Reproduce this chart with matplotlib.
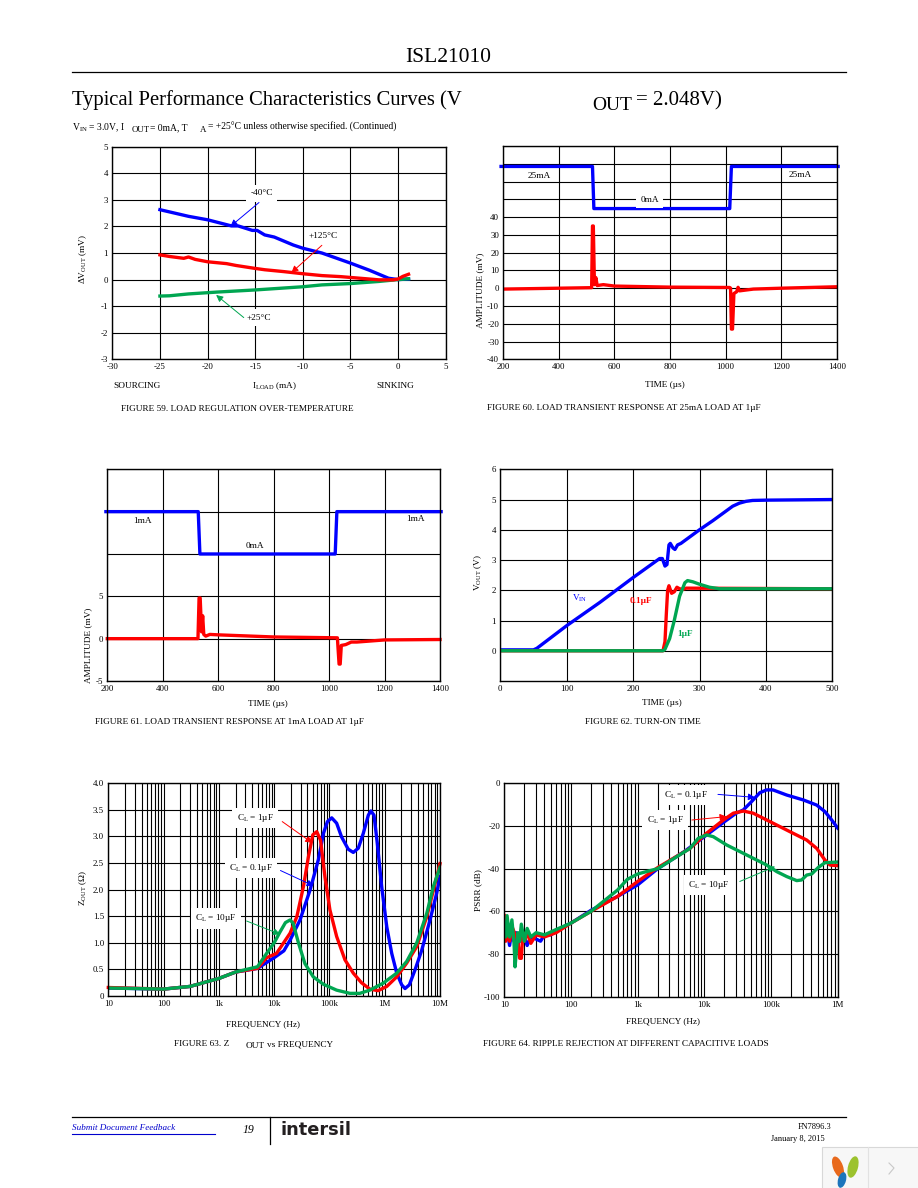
#!/usr/bin/env python3
"""ISL21010 datasheet page 19: six performance curves, values read off the page."""

import matplotlib
matplotlib.use('Agg')
import matplotlib.pyplot as plt
from matplotlib.patches import Ellipse, Rectangle
from matplotlib.ticker import FixedLocator, NullFormatter

plt.rcParams['font.family'] = ['Liberation Serif', 'DejaVu Sans']
plt.rcParams['axes.unicode_minus'] = False

W, H = 918, 1188
BLUE, RED, GREEN = "#0000ff", "#ff0000", "#00a651"
LW = 2.4
TICK_FS = 6.4

# Figure 59: load regulation
f59_blue_x = [-25, -22, -20, -17.5, -16.8, -16, -15.3, -14.8, -14, -13, -11, -10, -8, -5, -3, -1, 0, 1.1]
f59_blue_y = [2.63, 2.38, 2.25, 2.02, 2.02, 1.93, 1.85, 1.85, 1.68, 1.6, 1.3, 1.18, 1.0, 0.62, 0.35, 0.05, 0, 0.02]
f59_red_x = [-25, -24, -22.5, -22, -21.3, -20, -18, -17, -15, -14, -12, -10, -8, -6, -4, -2, -0.5, 0, 0.5, 1.1]
f59_red_y = [.93, .87, .8, .85, .76, .67, .6, .53, .42, .37, .3, .22, .15, .11, .05, -.01, -.01, .02, .12, .2]
f59_green_x = [-25, -24, -22, -19, -15, -10, -8, -5, -2, 0, 1.1]
f59_green_y = [-.62, -.61, -.54, -.47, -.39, -.27, -.2, -.15, -.07, 0, .03]

# Figure 60: 25mA load transient
f60_blue_x = [192, 521, 526, 1015, 1021, 1405]
f60_blue_y = [68.5, 68.5, 44.8, 44.8, 68.5, 68.5]
f60_red_x = [200, 400, 518, 521, 524, 528, 533, 538, 560, 600, 800, 1015, 1018, 1021, 1025, 1030, 1040, 1045, 1050, 1100, 1200, 1400]
f60_red_y = [-.5, 0, .3, 35, 35, 2, 6, 1.5, 2, 1.2, .6, .4, 0, -23, -23, -3, -2, .5, -1.5, -.5, 0, .8]

# Figure 61: 1mA load transient
f61_blue_x = [195, 528, 534, 1022, 1028, 1404]
f61_blue_y = [15, 15, 10, 10, 15, 15]
f61_red_x = [200, 400, 527, 531, 535, 540, 544, 548, 555, 570, 600, 800, 1030, 1032, 1036, 1040, 1044, 1060, 1080, 1100, 1200, 1400]
f61_red_y = [0, 0, 0, 4.8, 4.8, .8, 2.7, .5, .3, .5, .45, .2, .1, -1, -3, -3, -.8, -.7, -.4, -.4, -.15, -.1]

# Figure 62: turn-on time
f62_blue_x = [0, 50, 55, 100, 150, 200, 240, 244, 248, 251, 254, 256, 260, 263, 267, 272, 300, 320, 340, 350, 360, 370, 380, 400, 500]
f62_blue_y = [.03, .03, .08, .83, 1.6, 2.42, 3.05, 3.05, 2.8, 2.85, 3.5, 3.55, 3.4, 3.35, 3.5, 3.55, 4.0, 4.3, 4.62, 4.78, 4.88, 4.94, 4.97, 4.98, 5.0]
f62_red_x = [0, 245, 248, 250, 252, 254, 258, 262, 266, 270, 275, 280, 500]
f62_red_y = [0, 0, .3, 1.2, 2.0, 2.15, 1.9, 1.95, 2.1, 2.05, 2.03, 2.07, 2.05]
f62_green_x = [0, 245, 248, 255, 262, 270, 278, 282, 290, 300, 315, 330, 500]
f62_green_y = [0, 0, .05, .4, 1.0, 1.8, 2.25, 2.32, 2.28, 2.2, 2.1, 2.05, 2.05]

# Figure 63: output impedance
f63_blue_x = [10, 100, 300, 1e3, 2e3, 5e3, 1e4, 1.5e4, 1.94e4, 2.94e4, 4.45e4, 6.3e4, 7.8e4, 9.2e4, 1.1e5, 1.35e5, 1.66e5, 2.19e5, 2.7e5, 3.33e5, 4.1e5, 5.05e5, 5.62e5, 6.4e5, 7.35e5, 8.8e5, 1.09e6, 1.34e6, 1.65e6, 2.03e6, 2.33e6, 2.79e6, 3.53e6, 4.67e6, 6.6e6, 8.7e6, 1e7]
f63_blue_y = [.15, .13, .18, .33, .45, .52, .72, .85, 1.05, 1.43, 1.99, 2.56, 3.06, 3.28, 3.35, 3.25, 2.99, 2.76, 2.70, 2.78, 3.06, 3.40, 3.48, 3.40, 2.87, 2.06, 1.30, .80, .43, .21, .14, .21, .49, .86, 1.43, 1.93, 2.25]
f63_red_x = [10, 100, 300, 1e3, 2e3, 5e3, 7.3e3, 1.1e4, 1.94e4, 2.57e4, 3.39e4, 4.17e4, 5e4, 5.9e4, 6.9e4, 8.3e4, 1.02e5, 1.35e5, 1.91e5, 2.7e5, 3.8e5, 5.37e5, 7.59e5, 1.09e6, 1.65e6, 2.5e6, 3.8e6, 5.75e6, 7.6e6, 1e7]
f63_red_y = [.16, .13, .18, .33, .45, .52, .72, .8, 1.18, 1.49, 2.06, 2.62, 3.03, 3.09, 2.93, 2.24, 1.62, 1.12, .68, .43, .25, .13, .10, .18, .36, .62, .93, 1.49, 1.99, 2.49]
f63_green_x = [10, 100, 300, 1e3, 2e3, 5e3, 7.3e3, 1e4, 1.27e4, 1.6e4, 1.94e4, 2.2e4, 2.75e4, 3.6e4, 5.1e4, 7.8e4, 1.35e5, 2.35e5, 3.55e5, 5.37e5, 9.33e5, 1.65e6, 2.5e6, 3.8e6, 5.75e6, 7.6e6, 1e7]
f63_green_y = [.15, .13, .18, .33, .45, .55, .8, 1.0, 1.2, 1.38, 1.43, 1.37, 1.0, .61, .36, .22, .11, .05, .05, .11, .24, .43, .65, 1.0, 1.55, 2.06, 2.42]

# Figure 64: ripple rejection
f64_blue_x = [10, 10.5, 11, 12, 13, 14, 15, 16, 17, 18, 20, 22, 25, 30, 35, 40, 50, 60, 100, 200, 500, 1e3, 2e3, 5e3, 1e4, 2e4, 3e4, 3.84e4, 5.1e4, 6.8e4, 8.6e4, 1.07e5, 1.72e5, 3.05e5, 4.84e5, 6.45e5, 8.13e5, 1e6]
f64_blue_y = [-68, -72, -68, -76, -69, -74, -70, -76, -71, -74, -72, -76, -72, -73, -74, -71, -71, -69, -65.5, -59.5, -53, -47.6, -40, -32, -25, -18, -14, -12.5, -8.6, -4.4, -3.1, -3.1, -5.5, -7.8, -10.2, -13.3, -17.2, -21]
f64_red_x = [10, 10.5, 11, 12, 13, 15, 16, 17, 18, 19, 20, 22, 25, 30, 40, 60, 100, 200, 500, 1e3, 2e3, 6.1e3, 1.08e4, 1.93e4, 2.72e4, 3.84e4, 5.4e4, 9.7e4, 1.93e5, 3.43e5, 4.84e5, 6.45e5, 7.67e5, 1e6]
f64_red_y = [-62, -74, -64, -74, -67, -72, -74, -82, -82, -70, -74, -70, -75, -71, -72, -70, -65.5, -60, -53, -46, -39.5, -30.5, -23.4, -17.2, -14, -13, -14, -18, -22.7, -26.6, -30.5, -36, -38.3, -38.6]
f64_green_x = [10, 10.5, 11, 12, 13, 14, 14.5, 16, 17, 18, 20, 22, 25, 30, 40, 60, 100, 200, 500, 700, 1e3, 1.5e3, 2e3, 6.1e3, 8.1e3, 1.08e4, 1.36e4, 2.16e4, 3.84e4, 8.6e4, 1.22e5, 1.72e5, 2.43e5, 2.88e5, 3.43e5, 4.07e5, 5.13e5, 6.45e5, 1e6]
f64_green_y = [-66, -72, -62, -72, -64, -75, -86, -70, -74, -66, -74, -68, -72, -70, -71, -68.5, -65.5, -60, -50, -45, -42.5, -41, -40, -30.5, -25.8, -24.2, -25, -28.9, -32.8, -38.3, -41.4, -43.7, -45.6, -45.3, -43, -42.5, -39.4, -37.2, -36.9]

LOG_SUBS = [1, 2, 3, 4, 5, 6, 7, 8, 9]
F63_MINOR = [m * 10**d for d in range(1, 7) for m in LOG_SUBS[1:]]
F64_MINOR = [m * 10**d for d in range(1, 6) for m in LOG_SUBS[1:]]

CL_1 = r"$\mathregular{C_L}$ = 1µF"
CL_01 = r"$\mathregular{C_L}$ = 0.1µF"
CL_10 = r"$\mathregular{C_L}$ = 10µF"

fig = plt.figure(figsize=(W / 100, H / 100), dpi=100, facecolor='white')

# page overlay in pixel coordinates, y downwards
page = fig.add_axes([0, 0, 1, 1], zorder=5)
page.set_xlim(0, W)
page.set_ylim(H, 0)
page.axis('off')
page.patch.set_alpha(0)


def ptext(x, y, s, size=6.7, ha='left', **kw):
    page.text(x, y, s, fontsize=size, ha=ha, va='center', **kw)


def make_axes(left, top, right, bottom):
    ax = fig.add_axes([left / W, 1 - bottom / H, (right - left) / W, (bottom - top) / H])
    ax.tick_params(which='both', length=0, labelsize=TICK_FS, pad=3)
    ax.set_axisbelow(True)
    for sp in ax.spines.values():
        sp.set_linewidth(1.0)
    ax.grid(True, which='both', color='black', linewidth=0.8)
    return ax


def set_labels(ax, xlabel, xpos, ylabel, ypos):
    ax.set_xlabel(xlabel, fontsize=6.7, va='center')
    ax.xaxis.set_label_coords(*xpos, transform=page.transData)
    ax.set_ylabel(ylabel, fontsize=6.7, va='center')
    ax.yaxis.set_label_coords(*ypos, transform=page.transData)


def note(ax, s, x, y, color='black', box=True, weight='normal'):
    bbox = dict(facecolor='white', edgecolor='none', pad=3) if box else None
    ax.text(x, y, s, fontsize=6.7, color=color, ha='center', va='center',
            fontweight=weight, bbox=bbox, zorder=6)


def arrow(ax, tail, head, color):
    ax.annotate('', xy=head, xytext=tail, zorder=6,
                arrowprops=dict(arrowstyle='-|>', color=color, lw=0.7,
                                mutation_scale=10, shrinkA=0, shrinkB=0))


# Figure 59
ax = make_axes(112.3, 146.7, 445.7, 359.3)
ax.plot(f59_blue_x, f59_blue_y, color=BLUE, lw=LW)
ax.plot(f59_green_x, f59_green_y, color=GREEN, lw=LW)
ax.plot(f59_red_x, f59_red_y, color=RED, lw=LW)
ax.set_xlim(-30, 5)
ax.set_ylim(-3, 5)
ax.set_xticks(range(-30, 6, 5))
ax.set_yticks(range(-3, 6))
set_labels(ax, r"$\mathregular{I_{LOAD}}$ (mA)", (275, 386), r"ΔV$\mathregular{_{OUT}}$ (mV)", (83, 259))
note(ax, "-40°C", -14.3, 3.24)
arrow(ax, (-14.6, 2.9), (-17.6, 2.0), BLUE)
note(ax, "+125°C", -7.85, 1.64)
arrow(ax, (-8.0, 1.29), (-11.2, .26), RED)
note(ax, "+25°C", -14.67, -1.43)
arrow(ax, (-16.2, -1.43), (-19.1, -.58), GREEN)
ptext(113, 386, "SOURCING")
ptext(376, 386, "SINKING")

# Figure 60
ax = make_axes(503.3, 146, 836.7, 359.3)
ax.plot(f60_blue_x, f60_blue_y, color=BLUE, lw=LW, clip_on=False)
ax.plot(f60_red_x, f60_red_y, color=RED, lw=LW)
ax.set_xlim(200, 1400)
ax.set_ylim(-40, 80)
ax.set_xticks(range(200, 1401, 200))
ax.set_yticks(range(-40, 81, 10))
ax.set_yticklabels([str(v) if v <= 40 else '' for v in range(-40, 81, 10)])
set_labels(ax, "TIME (µs)", (665, 385), "AMPLITUDE (mV)", (480, 290))
note(ax, "25mA", 328, 63.4, box=False)
note(ax, "0mA", 726, 49.9)
note(ax, "25mA", 1268, 63.8, box=False)

# Figure 61
ax = make_axes(107.3, 469.3, 440, 681)
ax.plot(f61_blue_x, f61_blue_y, color=BLUE, lw=LW, clip_on=False)
ax.plot(f61_red_x, f61_red_y, color=RED, lw=LW, clip_on=False)
ax.set_xlim(200, 1400)
ax.set_ylim(-5, 20)
ax.set_xticks(range(200, 1401, 200))
ax.set_yticks(range(-5, 21, 5))
ax.set_yticklabels([str(v) if v <= 5 else '' for v in range(-5, 21, 5)])
set_labels(ax, "TIME (µs)", (268, 704), "AMPLITUDE (mV)", (88, 645))
note(ax, "1mA", 327, 13.9, box=False)
note(ax, "0mA", 732, 11, box=False)
note(ax, "1mA", 1310, 14.1, box=False)

# Figure 62
ax = make_axes(500.3, 469.3, 832.3, 681)
ax.plot(f62_blue_x, f62_blue_y, color=BLUE, lw=LW)
ax.plot(f62_red_x, f62_red_y, color=RED, lw=LW)
ax.plot(f62_green_x, f62_green_y, color=GREEN, lw=LW)
ax.set_xlim(0, 500)
ax.set_ylim(-1, 6)
ax.set_xticks(range(0, 501, 100))
ax.set_yticks(range(0, 7))
set_labels(ax, "TIME (µs)", (662, 703), r"V$\mathregular{_{OUT}}$ (V)", (478, 573))
note(ax, r"$\mathregular{V_{IN}}$", 119, 1.72, color=BLUE, box=False)
note(ax, "0.1µF", 212, 1.64, color=RED, box=False, weight='bold')
note(ax, "1µF", 279, .57, color=GREEN, box=False, weight='bold')

# Figure 63
ax = make_axes(108.3, 783.3, 440, 996)
ax.set_xscale('log')
ax.plot(f63_blue_x, f63_blue_y, color=BLUE, lw=LW)
ax.plot(f63_red_x, f63_red_y, color=RED, lw=LW, clip_on=False)
ax.plot(f63_green_x, f63_green_y, color=GREEN, lw=LW)
ax.set_xlim(10, 1e7)
ax.set_ylim(0, 4)
ax.set_xticks([10, 100, 1e3, 1e4, 1e5, 1e6, 1e7])
ax.set_xticklabels(["10", "100", "1k", "10k", "100k", "1M", "10M"])
ax.xaxis.set_minor_locator(FixedLocator(F63_MINOR))
ax.xaxis.set_minor_formatter(NullFormatter())
ax.set_yticks([0, .5, 1, 1.5, 2, 2.5, 3, 3.5, 4])
ax.set_yticklabels(["0", "0.5", "1.0", "1.5", "2.0", "2.5", "3.0", "3.5", "4.0"])
set_labels(ax, "FREQUENCY (Hz)", (263, 1024), r"Z$\mathregular{_{OUT}}$ (Ω)", (83, 888))
note(ax, CL_1, 4.5e3, 3.35)
arrow(ax, (1.4e4, 3.28), (4.9e4, 2.88), RED)
note(ax, CL_01, 3.76e3, 2.41)
arrow(ax, (1.3e4, 2.36), (5.2e4, 2.07), BLUE)
note(ax, CL_10, 887, 1.46)
arrow(ax, (3.18e3, 1.41), (1.28e4, 1.16), GREEN)

# Figure 64
ax = make_axes(504.3, 783.3, 837.7, 996.7)
ax.set_xscale('log')
ax.plot(f64_blue_x, f64_blue_y, color=BLUE, lw=LW)
ax.plot(f64_red_x, f64_red_y, color=RED, lw=LW)
ax.plot(f64_green_x, f64_green_y, color=GREEN, lw=LW)
ax.set_xlim(10, 1e6)
ax.set_ylim(-100, 0)
ax.set_xticks([10, 100, 1e3, 1e4, 1e5, 1e6])
ax.set_xticklabels(["10", "100", "1k", "10k", "100k", "1M"])
ax.xaxis.set_minor_locator(FixedLocator(F64_MINOR))
ax.xaxis.set_minor_formatter(NullFormatter())
ax.set_yticks(range(-100, 1, 20))
set_labels(ax, "FREQUENCY (Hz)", (663, 1021), "PSRR (dB)", (478, 890))
note(ax, CL_01, 5.25e3, -5.5)
arrow(ax, (1.6e4, -5.2), (5.75e4, -6.6), BLUE)
note(ax, CL_1, 2.57e3, -17.2)
arrow(ax, (6.5e3, -17.2), (2.16e4, -15.6), RED)
note(ax, CL_10, 1.16e4, -47.7)
arrow(ax, (3.4e4, -46), (1.15e5, -39), GREEN)

# page header
ptext(448, 57, "ISL21010", size=15.5, ha='center')
page.plot([72, 846], [72, 72], color='black', lw=0.9)
ptext(72, 100.5, "Typical Performance Characteristics Curves (V", size=14.9)
ptext(592, 105, "OUT", size=14)
ptext(636, 100.5, "= 2.048V)", size=15)
ptext(72, 127.5, r"V$\mathregular{_{IN}}$ = 3.0V, I", size=6.9)
ptext(132, 129.5, "OUT", size=6.4)
ptext(150, 127.5, "= 0mA, T", size=6.9)
ptext(200, 129.5, "A", size=6.4)
ptext(208, 127.5, "= +25°C unless otherwise specified. (Continued)", size=6.9)

# captions
ptext(121, 409, "FIGURE 59. LOAD REGULATION OVER-TEMPERATURE")
ptext(487, 408, "FIGURE 60. LOAD TRANSIENT RESPONSE AT 25mA LOAD AT 1µF")
ptext(95, 722, "FIGURE 61. LOAD TRANSIENT RESPONSE AT 1mA LOAD AT 1µF")
ptext(585, 722, "FIGURE 62. TURN-ON TIME")
ptext(174, 1044, "FIGURE 63. Z")
ptext(246, 1046, "OUT")
ptext(267, 1044, "vs FREQUENCY")
ptext(483, 1044, "FIGURE 64. RIPPLE REJECTION AT DIFFERENT CAPACITIVE LOADS")

# footer
page.plot([72, 846], [1116.5, 1116.5], color='black', lw=0.9)
page.plot([270, 270], [1117, 1144], color='black', lw=0.9)
ptext(72, 1128, "Submit Document Feedback", size=6.6, style='italic', color='#0000cc')
page.plot([72, 215], [1134, 1134], color='#0000cc', lw=0.8)
ptext(243, 1130, "19", size=8.5, style='italic')
ptext(281, 1130, "intersil", size=12.8, fontweight='bold', family='DejaVu Sans', color='#231f20')
ptext(831, 1127, "FN7896.3", size=6, ha='right')
ptext(825, 1139, "January 8, 2015", size=6, ha='right')

# viewer widget in the corner
page.add_patch(Rectangle((822, 1147), 100, 45, facecolor='#f7f7f7', edgecolor='#d8d8d8', lw=0.8))
page.plot([868, 868], [1147, 1188], color='#e2e2e2', lw=0.8)
page.add_patch(Ellipse((838, 1167), 10, 22, angle=-20, facecolor='#e8691c', edgecolor='none'))
page.add_patch(Ellipse((853, 1167), 10, 22, angle=15, facecolor='#9cc22e', edgecolor='none'))
page.add_patch(Ellipse((842, 1180), 8, 16, angle=15, facecolor='#1c75bc', edgecolor='none'))
page.plot([889, 894, 889], [1163, 1168, 1174], color='#c8c8c8', lw=0.8)

fig.savefig("out.png", dpi=100)
